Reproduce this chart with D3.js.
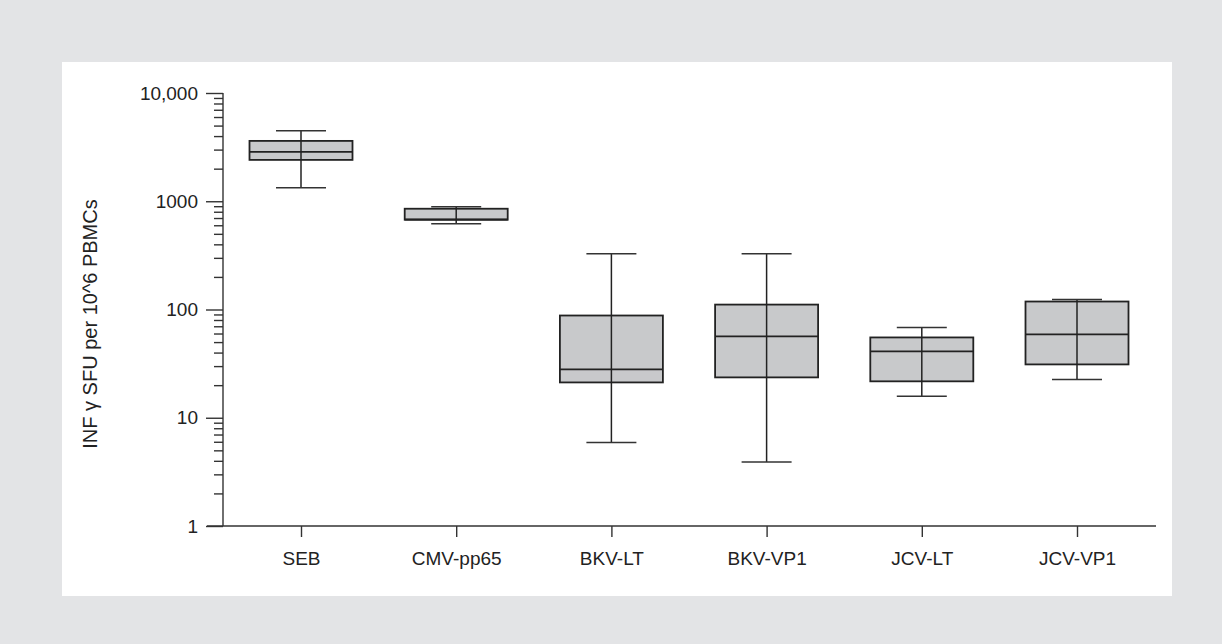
<!DOCTYPE html>
<html>
<head>
<meta charset="utf-8">
<script src="https://cdn.jsdelivr.net/npm/d3@7"></script>
<style>
  body { margin: 0; background: #e3e4e6; }
  svg { display: block; }
  text { font-family: "Liberation Sans", Arial, Helvetica, sans-serif; fill: #222; }
</style>
</head>
<body>
<svg id="chart" width="1222" height="644"></svg>
<script>
// data
const categories = ["SEB", "CMV-pp65", "BKV-LT", "BKV-VP1", "JCV-LT", "JCV-VP1"];
const whiskerLow  = [1330, 620, 5.9, 3.9, 15.8, 22.6];
const boxLow      = [2410, 675, 21.2, 23.6, 21.7, 31.1];
const medians     = [2860, 678, 28, 56.4, 41, 58.8];
const boxHigh     = [3610, 853, 88, 111, 55.2, 118.5];
const whiskerHigh = [4470, 890, 328, 328, 68.2, 123.7];
const majorTicks  = [1, 10, 100, 1000, 10000];
const majorLabels = ["1", "10", "100", "1000", "10,000"];

const svg = d3.select("#chart");

// white panel
svg.append("rect")
    .attr("x", 62).attr("y", 62)
    .attr("width", 1110).attr("height", 534)
    .attr("fill", "#ffffff");

const y = d3.scaleLog().domain([1, 10000]).range([526, 93]);
const x = d3.scalePoint().domain(categories).range([301, 1077]);
const axisX = 223, baseY = y(1);

// minor ticks
let minor = [];
majorTicks.slice(0, -1).forEach(d => {
    for(let k = 2; k <= 9; k++) minor.push(d * k);
});

const gMinor = svg.append("g")
    .attr("transform", "translate(" + axisX + ",0)")
    .call(d3.axisLeft(y).tickValues(minor).tickSize(9).tickFormat("").tickSizeOuter(0));
gMinor.select(".domain").remove();

const gMajor = svg.append("g")
    .attr("transform", "translate(" + axisX + ",0)")
    .call(d3.axisLeft(y).tickValues(majorTicks).tickSize(17).tickPadding(8)
        .tickFormat((d, i) => majorLabels[i]).tickSizeOuter(0));
gMajor.select(".domain").remove();
gMajor.selectAll("text").style("font-size", "19px").attr("fill", "#222");

svg.selectAll(".tick line").attr("stroke", "#333").attr("stroke-width", 1.4);

// y axis line
svg.append("line")
    .attr("x1", axisX).attr("x2", axisX)
    .attr("y1", y(10000)).attr("y2", baseY)
    .attr("stroke", "#333").attr("stroke-width", 1.4);

// x axis
const gx = svg.append("g")
    .attr("transform", "translate(0," + baseY + ")")
    .call(d3.axisBottom(x).tickSize(11).tickPadding(15).tickSizeOuter(0));
gx.select(".domain").remove();
gx.selectAll("line").attr("stroke", "#333").attr("stroke-width", 1.4);
gx.selectAll("text").style("font-size", "19px").attr("fill", "#222");

svg.append("line")
    .attr("x1", 207).attr("x2", 1156)
    .attr("y1", baseY).attr("y2", baseY)
    .attr("stroke", "#333").attr("stroke-width", 1.4);

// y label
svg.append("text")
    .attr("transform", "translate(97,324) rotate(-90)")
    .attr("text-anchor", "middle")
    .style("font-size", "20px")
    .text("INF \u03b3 SFU per 10^6 PBMCs");

// boxes
const boxW = 103, capW = 50;
const groups = svg.append("g").selectAll("g")
    .data(categories)
    .join("g");

groups.append("rect")
    .attr("x", d => x(d) - boxW / 2)
    .attr("y", (d, i) => y(boxHigh[i]))
    .attr("width", boxW)
    .attr("height", (d, i) => y(boxLow[i]) - y(boxHigh[i]))
    .attr("fill", "#c8c9cb")
    .attr("stroke", "#222")
    .attr("stroke-width", 1.8);

groups.append("line")
    .attr("x1", d => x(d) - boxW / 2).attr("x2", d => x(d) + boxW / 2)
    .attr("y1", (d, i) => y(medians[i])).attr("y2", (d, i) => y(medians[i]))
    .attr("stroke", "#222").attr("stroke-width", 1.8);

// whisker stem
groups.append("line")
    .attr("x1", d => x(d)).attr("x2", d => x(d))
    .attr("y1", (d, i) => y(whiskerHigh[i])).attr("y2", (d, i) => y(whiskerLow[i]))
    .attr("stroke", "#222").attr("stroke-width", 1.5);

// caps
[whiskerHigh, whiskerLow].forEach(arr => {
    groups.append("line")
        .attr("x1", d => x(d) - capW / 2).attr("x2", d => x(d) + capW / 2)
        .attr("y1", (d, i) => y(arr[i])).attr("y2", (d, i) => y(arr[i]))
        .attr("stroke", "#333").attr("stroke-width", 1.5);
});
</script>
</body>
</html>
